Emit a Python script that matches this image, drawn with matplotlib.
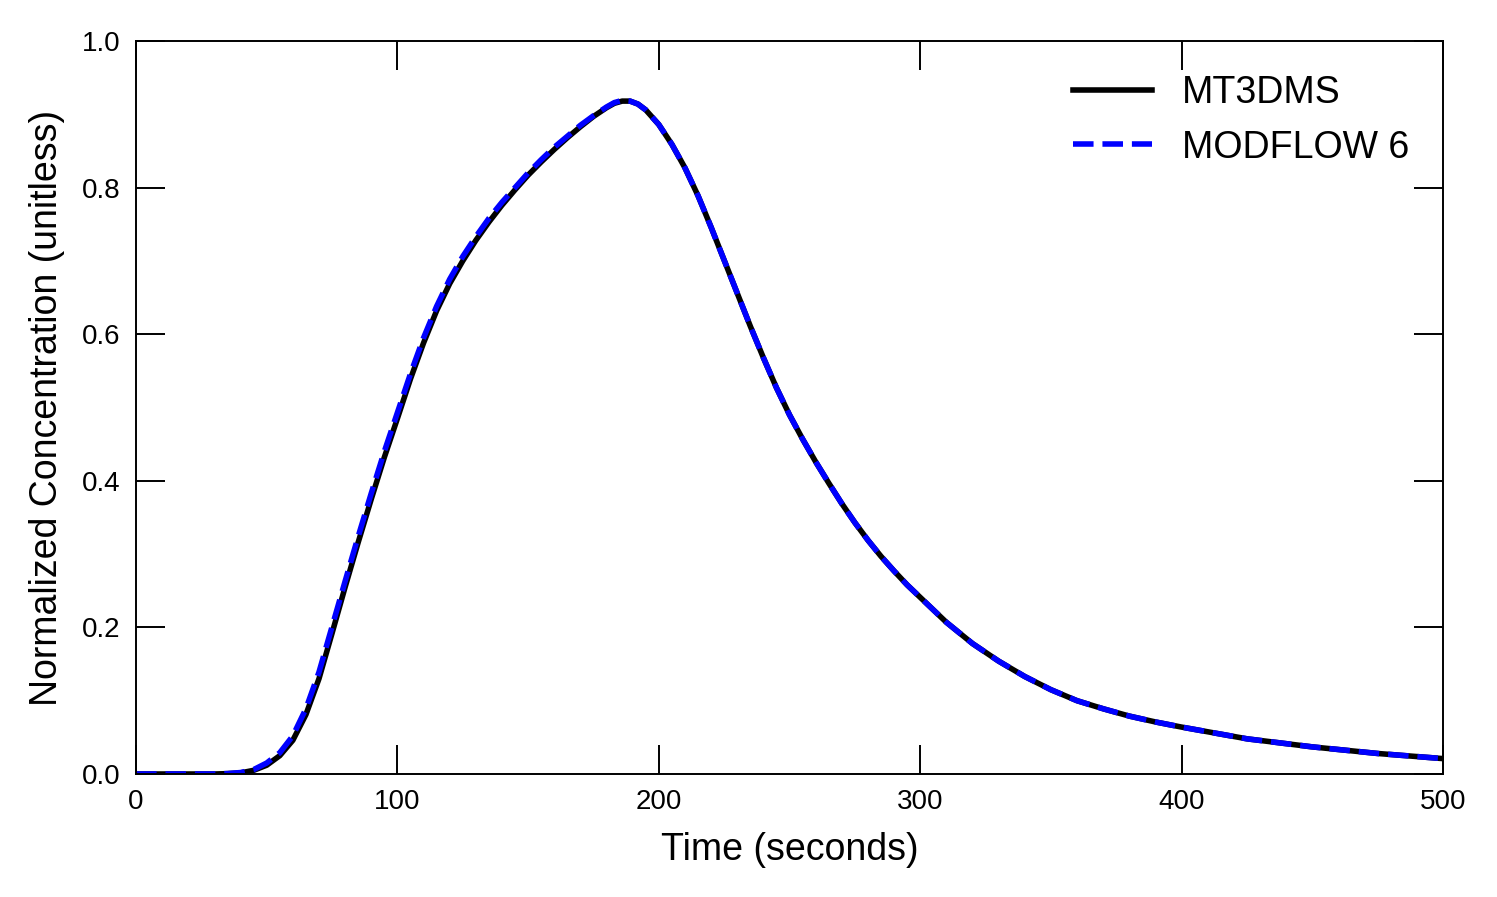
import matplotlib
matplotlib.use("Agg")
import matplotlib.pyplot as plt
import numpy as np

# breakthrough curve
times = [0, 10, 20, 30, 35, 40, 45, 50, 55, 60, 65, 70, 75, 80, 85, 90, 95,
         100, 105, 110, 115, 120, 125, 130, 135, 140, 145, 150, 155, 160,
         165, 170, 175, 180, 183, 186, 189, 192, 195, 200, 205, 210, 215,
         220, 225, 230, 235, 240, 245, 250, 255, 260, 265, 270, 275, 280,
         285, 290, 295, 300, 310, 320, 330, 340, 350, 360, 370, 380, 390,
         400, 425, 450, 475, 500]

conc_mt3dms = [0.0, 0.0, 0.0, 0.0, 0.0005, 0.0015, 0.005, 0.012, 0.025, 0.046,
               0.081, 0.13, 0.192, 0.255, 0.316, 0.375, 0.432,
               0.485, 0.539, 0.588, 0.632, 0.669, 0.700, 0.728, 0.753, 0.776,
               0.797, 0.817, 0.835, 0.852,
               0.868, 0.883, 0.897, 0.909, 0.915, 0.918, 0.918, 0.914, 0.906,
               0.886, 0.859, 0.827, 0.789,
               0.746, 0.701, 0.656, 0.611, 0.568, 0.527, 0.49, 0.457, 0.426,
               0.397, 0.369, 0.343, 0.319,
               0.297, 0.277, 0.258, 0.241, 0.207, 0.178, 0.154, 0.133, 0.115,
               0.1, 0.089, 0.079, 0.071,
               0.064, 0.048, 0.037, 0.028, 0.021]

conc_mf6 = [0.0, 0.0, 0.0, 0.0, 0.0006, 0.002, 0.006, 0.015, 0.029, 0.052,
            0.089, 0.139, 0.201, 0.263, 0.324, 0.383, 0.44,
            0.493, 0.546, 0.595, 0.638, 0.675, 0.706, 0.733, 0.758, 0.78,
            0.8, 0.82, 0.838, 0.855,
            0.87, 0.885, 0.898, 0.91, 0.916, 0.919, 0.918, 0.914, 0.906,
            0.886, 0.859, 0.827, 0.789,
            0.746, 0.701, 0.656, 0.611, 0.568, 0.527, 0.49, 0.457, 0.426,
            0.397, 0.369, 0.343, 0.319,
            0.297, 0.277, 0.258, 0.241, 0.207, 0.178, 0.154, 0.133, 0.115,
            0.1, 0.089, 0.079, 0.071,
            0.064, 0.048, 0.037, 0.028, 0.021]

x_ticks = [0, 100, 200, 300, 400, 500]
y_ticks = [0.0, 0.2, 0.4, 0.6, 0.8, 1.0]


def main():
    plt.rcParams['font.family'] = ['Liberation Sans', 'DejaVu Sans']

    fig = plt.figure(figsize=(14.97, 8.97), dpi=100)
    ax = fig.add_axes([136 / 1497, 1 - 774 / 897, 1307 / 1497, 733 / 897])

    ax.plot(times, conc_mt3dms, color='black', lw=4.0, label='MT3DMS')
    ax.plot(times, conc_mf6, color='blue', lw=4.0, ls='--', label='MODFLOW 6')

    ax.set_xlim(0, 500)
    ax.set_ylim(0, 1.0)
    ax.set_xticks(x_ticks)
    ax.set_yticks(y_ticks)
    ax.set_yticklabels(['%.1f' % v for v in y_ticks])
    ax.tick_params(direction='in', length=21, width=1.4, labelsize=20,
                   top=True, right=True, pad=11)
    for sp in ax.spines.values():
        sp.set_linewidth(1.4)

    ax.set_xlabel('Time (seconds)', fontsize=27, labelpad=12)
    ax.set_ylabel('Normalized Concentration (unitless)', fontsize=27, labelpad=12)

    ax.legend(loc='upper right', frameon=False, fontsize=27, handlelength=2.1,
              borderaxespad=0.5)

    fig.savefig('out.png', dpi=100)


main()
